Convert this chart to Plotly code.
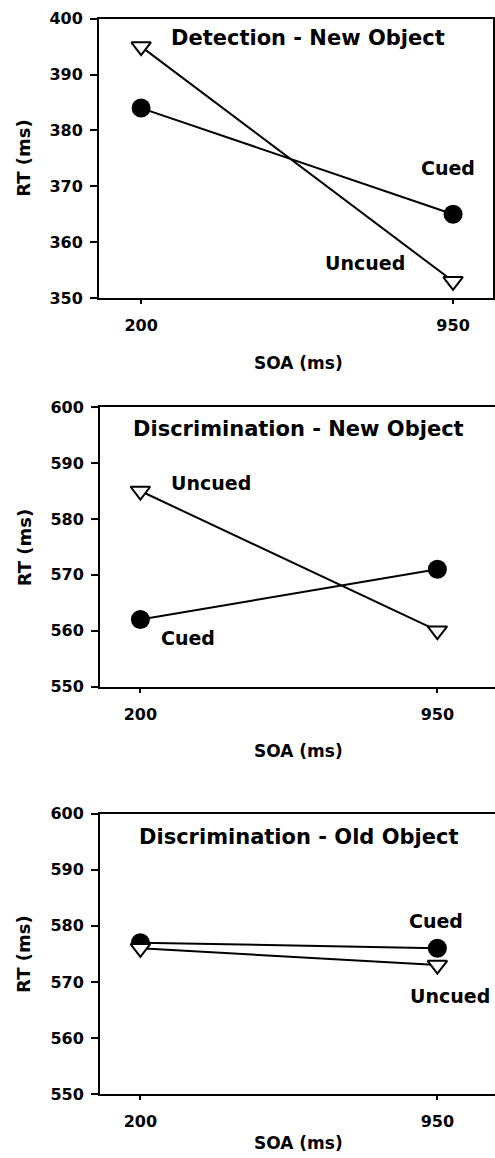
import plotly.graph_objects as go

# ---- data ----
soa_labels = ["200", "950"]

panel_titles = ["Detection - New Object",
                "Discrimination - New Object",
                "Discrimination - Old Object"]

cued_detection_new = [384, 365]
uncued_detection_new = [395, 353]

cued_discrim_new = [562, 571]
uncued_discrim_new = [585, 560]

cued_discrim_old = [577, 576]
uncued_discrim_old = [576, 573]

y_ranges = [[350, 400], [550, 600], [550, 600]]
y_ticks = [[350, 360, 370, 380, 390, 400],
           [550, 560, 570, 580, 590, 600],
           [550, 560, 570, 580, 590, 600]]

W, H = 495, 1158
FONT = "DejaVu Sans"

# observed vertical mapping of the rendered page (offset, scale)
Y_OFF, Y_SCALE = 9.34, 0.9823

def px(x):
    return x / W

def py(y):
    return 1 - ((y - Y_OFF) / Y_SCALE) / H

fig = go.Figure()

cued = [cued_detection_new, cued_discrim_new, cued_discrim_old]
uncued = [uncued_detection_new, uncued_discrim_new, uncued_discrim_old]

# panel geometry in pixels: (left, right, top, bottom)
geo = [(99, 493, 19, 298), (100, 495, 407, 686), (100, 495, 813, 1093)]
x_ranges = [[-0.135, 1.128], [-0.136, 1.194], [-0.136, 1.194]]

for i in range(3):
    xa = "x" if i == 0 else f"x{i+1}"
    ya = "y" if i == 0 else f"y{i+1}"
    fig.add_trace(go.Scatter(
        x=soa_labels, y=cued[i], xaxis=xa, yaxis=ya, mode="lines+markers",
        line=dict(color="black", width=2),
        marker=dict(symbol="circle", size=19, color="black"),
        showlegend=False, cliponaxis=False))
    fig.add_trace(go.Scatter(
        x=soa_labels, y=uncued[i], xaxis=xa, yaxis=ya, mode="lines+markers",
        line=dict(color="black", width=2),
        marker=dict(symbol="triangle-down", size=17, color="white",
                    line=dict(color="black", width=2)),
        showlegend=False, cliponaxis=False))

layout = dict(
    width=W, height=H,
    margin=dict(l=0, r=0, t=0, b=0),
    paper_bgcolor="white", plot_bgcolor="white",
    font=dict(family=FONT, color="black"),
)

for i in range(3):
    l, r, t, b = geo[i]
    xk = "xaxis" if i == 0 else f"xaxis{i+1}"
    yk = "yaxis" if i == 0 else f"yaxis{i+1}"
    ya = "y" if i == 0 else f"y{i+1}"
    xa = "x" if i == 0 else f"x{i+1}"
    layout[xk] = dict(
        domain=[px(l), min(px(r), 1.0)], anchor=ya, type="category",
        range=x_ranges[i], showgrid=False, zeroline=False,
        showline=True, linecolor="black", linewidth=2, mirror=True,
        ticks="outside", ticklen=4, tickwidth=2, tickcolor="black",
        ticklabelstandoff=8,
        tickfont=dict(family=FONT, size=16, weight="bold", color="black"))
    layout[yk] = dict(
        domain=[py(b), py(t)], anchor=xa, range=y_ranges[i],
        tickvals=y_ticks[i], showgrid=False, zeroline=False,
        showline=True, linecolor="black", linewidth=2, mirror=(i == 0),
        ticks="outside", ticklen=7, tickwidth=2, tickcolor="black",
        ticklabelstandoff=4,
        tickfont=dict(family=FONT, size=16, weight="bold", color="black"))

fig.update_layout(**layout)

def note(text, x, y, size, angle=0):
    fig.add_annotation(text=text, x=px(x), y=py(y), xref="paper", yref="paper",
                       showarrow=False, textangle=angle,
                       font=dict(family=FONT, size=size, weight="bold", color="black"),
                       xanchor="center", yanchor="middle")

title_pos = [(308, 38), (298, 429), (299, 836)]
for i in range(3):
    note(panel_titles[i], *title_pos[i], 21)

# series labels
note("Cued", 448, 168, 19)
note("Uncued", 365, 263, 19)
note("Uncued", 211, 483, 19)
note("Cued", 188, 638, 19)
note("Cued", 436, 920, 19)
note("Uncued", 450, 995, 19)

# axis titles
rt_y = [158, 547, 953]
soa_y = [363, 750, 1142]
for i in range(3):
    note("RT (ms)", 24, rt_y[i], 18, angle=-90)
    note("SOA (ms)", 298, soa_y[i], 17)

fig.write_html("out.html",
               config={"displayModeBar": False},
               post_script="document.body.style.margin='0';")
